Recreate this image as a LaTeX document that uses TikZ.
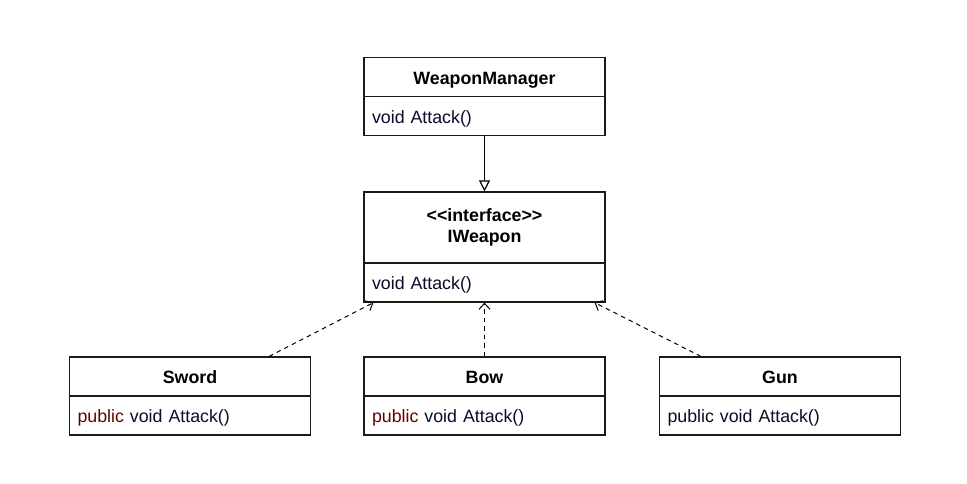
\documentclass[tikz,border=0pt]{standalone}
\usepackage{fontspec}
\setmainfont{Liberation Sans}
\usepackage{tikz}
\usetikzlibrary{arrows.meta}

\definecolor{linegray}{HTML}{1A1A1A}
\definecolor{keyred}{HTML}{660000}
\definecolor{textnavy}{HTML}{0A0A2A}

\tikzset{
    head/.style={draw=linegray, line width=1.2pt, minimum width=241pt, minimum height=39pt,
        font=\fontsize{17.8}{21.5}\selectfont\bfseries, align=center, inner sep=0pt,
        text height=14.6pt, text depth=0pt},
    body/.style={draw=linegray, line width=1.2pt, minimum height=39pt, text width=225pt,
        inner xsep=8pt, inner ysep=0pt, align=left, text=textnavy,
        font=\fontsize{17.8}{21.5}\selectfont, text height=14.6pt, text depth=0pt},
    realize/.style={dashed, dash pattern=on 4.5pt off 4pt, line width=1pt,
        -{Straight Barb[length=6pt,width=11pt]}}
}

\begin{document}
\begin{tikzpicture}[x=1pt,y=-1pt]

\useasboundingbox (0,0) rectangle (967,484);

\node [head] (wmhead) at (484.5,77) {WeaponManager};
\node [body] (wmbody) at (484.5,116) {void Attack()};

\node [head, minimum height=71pt, text height=, text depth=] (ihead) at (484.5,227.5) {<{}<interface>{}>\\IWeapon};
\node [body] (ibody) at (484.5,282.5) {void Attack()};

\node [head] (swordhead) at (190,376.5) {Sword};
\node [body] (swordbody) at (190,415.5) {\textcolor{keyred}{public} void Attack()};

\node [head] (bowhead) at (484.5,376.5) {Bow};
\node [body] (bowbody) at (484.5,415.5) {\textcolor{keyred}{public} void Attack()};

\node [head] (gunhead) at (780,376.5) {Gun};
\node [body] (gunbody) at (780,415.5) {public void Attack()};

\draw [line width=1.2pt, -{Triangle[open,length=11pt,width=11pt]}] (wmbody) -- (ihead);

\draw [realize] ([xshift=-42pt]swordhead.north east) -- ([xshift=10pt]ibody.south west);
\draw [realize] (bowhead) -- (ibody);
\draw [realize] ([xshift=42pt]gunhead.north west) -- ([xshift=-11pt]ibody.south east);

\end{tikzpicture}
\end{document}
